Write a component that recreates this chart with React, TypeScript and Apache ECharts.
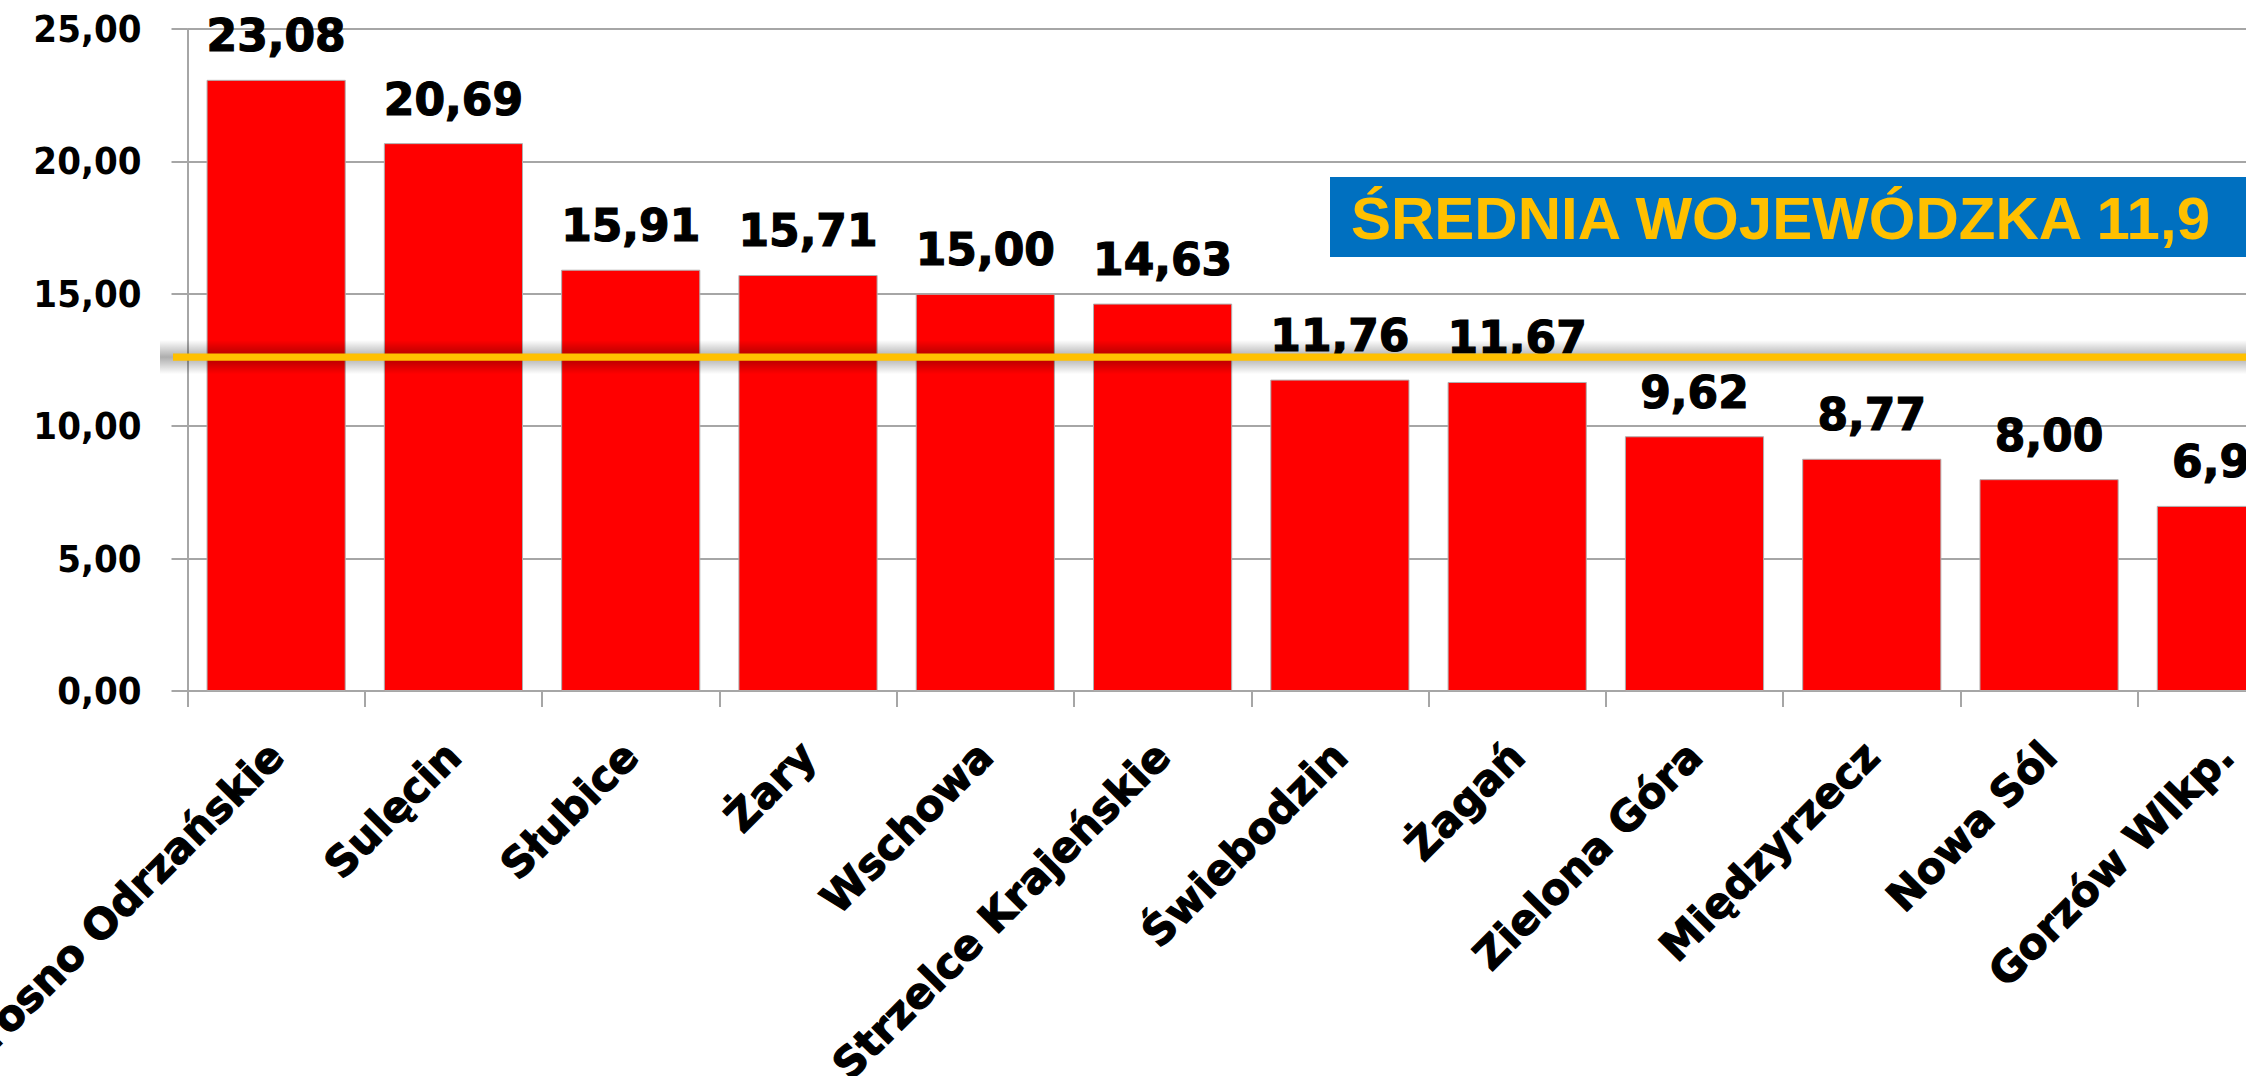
import React, { useEffect, useRef } from "react";
import * as echarts from "echarts";

const CATEGORIES = [
  "Krosno Odrzańskie",
  "Sulęcin",
  "Słubice",
  "Żary",
  "Wschowa",
  "Strzelce Krajeńskie",
  "Świebodzin",
  "Żagań",
  "Zielona Góra",
  "Międzyrzecz",
  "Nowa Sól",
  "Gorzów Wlkp.",
];
const VALUES = [23.08, 20.69, 15.91, 15.71, 15.0, 14.63, 11.76, 11.67, 9.62, 8.77, 8.0, 6.99];
const Y_TICK_LABELS = ["0,00", "5,00", "10,00", "15,00", "20,00", "25,00"];
const AVG_LINE_LEVEL = 12.61;
const AVG_TEXT = "ŚREDNIA WOJEWÓDZKA 11,9";

const fmt = (v: number) => v.toFixed(2).replace(".", ",");

export default function App() {
  const ref = useRef<HTMLDivElement>(null);
  useEffect(() => {
    if (!ref.current) return;
    const chart = echarts.init(ref.current, undefined, { renderer: "svg" });
    const grey = "#A6A6A6";
    chart.setOption({
      animation: false,
      backgroundColor: "#ffffff",
      grid: {
        left: 187.5,
        right: -69,
        top: 29,
        bottom: 385,
        containLabel: false,
        outerBoundsMode: "none",
      },
      xAxis: {
        type: "category",
        data: CATEGORIES,
        boundaryGap: true,
        axisLine: { show: true, lineStyle: { color: grey, width: 2 } },
        axisTick: { show: true, interval: 0, length: 16, lineStyle: { color: grey, width: 2 } },
        axisLabel: {
          interval: 0,
          rotate: 45,
          margin: 58,
          color: "#000",
          fontFamily: "DejaVu Sans",
          fontWeight: "bold",
          fontSize: 42,
          textBorderColor: "#000",
          textBorderWidth: 1.2,
        },
        splitLine: { show: false },
      },
      yAxis: {
        type: "value",
        min: 0,
        max: 25,
        interval: 5,
        axisLine: { show: true, lineStyle: { color: grey, width: 2 } },
        axisTick: { show: true, length: 16, lineStyle: { color: grey, width: 2 } },
        axisLabel: {
          margin: 46,
          color: "#000",
          fontFamily: "DejaVu Sans Condensed",
          fontWeight: "bold",
          fontSize: 38,
          formatter: (v: number) => Y_TICK_LABELS[Math.round(v / 5)],
        },
        splitLine: { show: true, lineStyle: { color: grey, width: 2 } },
      },
      series: [
        {
          type: "bar",
          data: VALUES,
          barCategoryGap: "21.5%",
          itemStyle: { color: "#FF0000", borderColor: "#B0B0B0", borderWidth: 1 },
          label: {
            show: true,
            position: "top",
            distance: 22,
            color: "#000",
            fontFamily: "DejaVu Sans",
            fontWeight: "bold",
            fontSize: 44,
            textBorderColor: "#000",
            textBorderWidth: 1.2,
            formatter: (p: any) => fmt(p.value),
          },
        },
      ],
    });
    const py = chart.convertToPixel({ yAxisIndex: 0 }, AVG_LINE_LEVEL);
    const y = Array.isArray(py) ? Number(py[1]) : Number(py);
    chart.setOption({
      graphic: [
        {
          type: "rect",
          z: 99,
          shape: { x: 160, y: y - 17, width: 2110, height: 34 },
          style: {
            fill: new echarts.graphic.LinearGradient(0, 0, 0, 1, [
              { offset: 0, color: "rgba(0,0,0,0)" },
              { offset: 0.5, color: "rgba(0,0,0,0.32)" },
              { offset: 1, color: "rgba(0,0,0,0)" },
            ]),
          },
        },
        {
          type: "rect",
          z: 100,
          shape: { x: 173, y: y - 3.6, width: 2100, height: 7.2 },
          style: { fill: "#FFC000" },
        },
        {
          type: "rect",
          z: 100,
          shape: { x: 1330, y: 177, width: 940, height: 80 },
          style: { fill: "#0070C0" },
        },
        {
          type: "text",
          z: 101,
          x: 1351,
          y: 218,
          style: {
            text: AVG_TEXT,
            fill: "#FFC000",
            font: "bold 60px 'Liberation Sans', Arial, sans-serif",
            textAlign: "left",
            textVerticalAlign: "middle",
          },
        },
      ],
    });
    return () => chart.dispose();
  }, []);
  return (
    <div
      ref={ref}
      style={{ position: "absolute", left: 0, top: 0, width: 2246, height: 1076 }}
    />
  );
}
